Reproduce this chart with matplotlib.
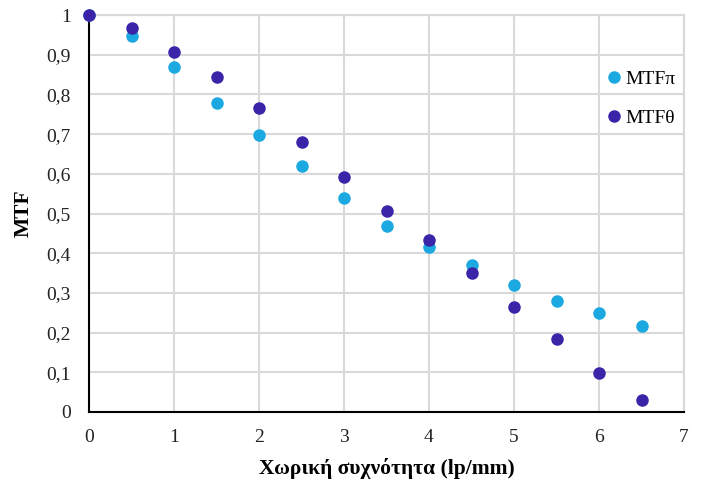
import numpy as np
import matplotlib
matplotlib.use("Agg")
import matplotlib.pyplot as plt
from matplotlib.ticker import FuncFormatter

# ================= DATA ===================
freq = [0, 0.5, 1, 1.5, 2, 2.5, 3, 3.5, 4, 4.5, 5, 5.5, 6, 6.5]
mtf_pi = [1.0, 0.948, 0.869, 0.778, 0.698, 0.619, 0.539, 0.469, 0.416, 0.370, 0.320, 0.280, 0.250, 0.217]
mtf_theta = [1.0, 0.968, 0.906, 0.845, 0.765, 0.679, 0.591, 0.506, 0.433, 0.351, 0.265, 0.183, 0.097, 0.030]
x_ticks = [0, 1, 2, 3, 4, 5, 6, 7]
y_ticks = [0, 0.1, 0.2, 0.3, 0.4, 0.5, 0.6, 0.7, 0.8, 0.9, 1.0]

plt.rcParams['font.family'] = ['Liberation Serif', 'DejaVu Serif']

# ================= PLOT ===================
fig = plt.figure(figsize=(7.05, 4.88), dpi=100)
ax = fig.add_axes([89 / 705, 1 - 412 / 488, 595 / 705, 397 / 488])

ax.plot(freq, mtf_pi, 'o', color='#1ca9e1', markersize=8, label='MTFπ', zorder=3, clip_on=False)
ax.plot(freq, mtf_theta, 'o', color='#3b24a8', markersize=8, label='MTFθ', zorder=4, clip_on=False)

ax.set_xlim(0, 7)
ax.set_ylim(0, 1)
ax.set_xticks(x_ticks)
ax.set_yticks(y_ticks)
ax.yaxis.set_major_formatter(FuncFormatter(lambda v, p: f"{v:g}".replace('.', ',')))
ax.tick_params(length=0, labelsize=14, colors='#222222')
ax.tick_params(axis='y', pad=13)
ax.tick_params(axis='x', pad=12)

ax.grid(True, color='#d9d9d9', linewidth=1.5)
ax.set_axisbelow(True)
for s in ['top', 'right']:
    ax.spines[s].set_color('#d9d9d9')
    ax.spines[s].set_linewidth(1.5)
for s in ['left', 'bottom']:
    ax.spines[s].set_color('black')
    ax.spines[s].set_linewidth(1.5)

ax.set_xlabel('Χωρική συχνότητα (lp/mm)', fontsize=15.5, fontweight='bold', labelpad=9)
ax.set_ylabel('MTF', fontsize=15.5, fontweight='bold', labelpad=9)

ax.legend(loc='upper left', bbox_to_anchor=(0.85, 0.88), frameon=False, fontsize=14,
          handletextpad=0.0, labelspacing=1.1, borderaxespad=0, handlelength=1.2)

fig.savefig('out.png', dpi=100)
